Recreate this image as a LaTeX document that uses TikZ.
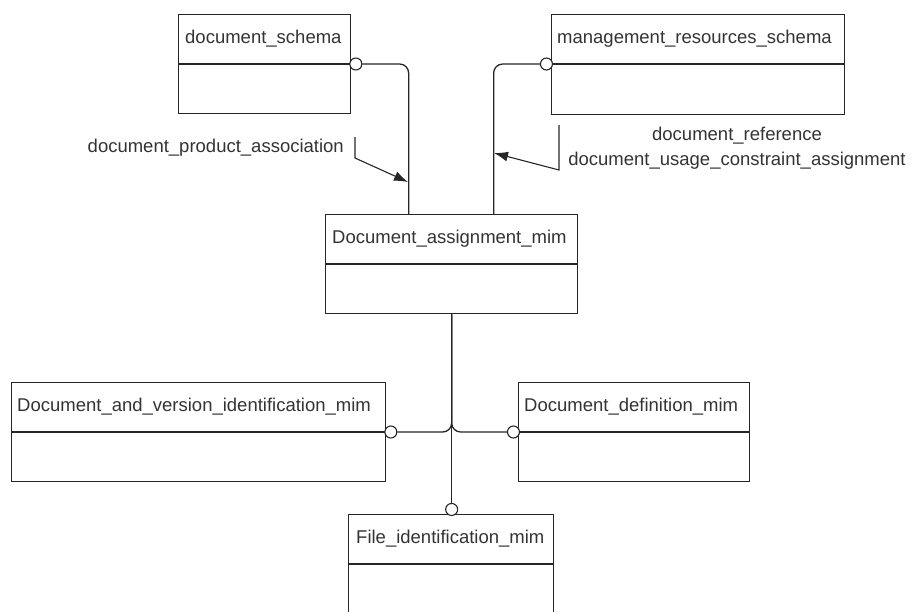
\documentclass[tikz,border=0pt]{standalone}
\usepackage{fontspec}
\setmainfont{Liberation Sans}
\usetikzlibrary{arrows.meta}
\begin{document}
\begin{tikzpicture}[x=1pt,y=-1pt,
  box/.style={draw=black!85, line width=1.3pt, rectangle, anchor=north west, inner sep=0pt},
  divider/.style={draw=black!85, line width=1.3pt},
  ttl/.style={anchor=west, inner sep=0pt, text=black!80, font=\fontsize{18.5}{22}\selectfont},
  endc/.style={circle, draw=black!85, fill=white, line width=1.1pt, minimum size=12pt, inner sep=0pt},
  conn/.style={draw=black!85, line width=1.3pt, rounded corners=9pt},
  lbl/.style={inner sep=0pt, text=black!80, font=\fontsize{18.5}{25}\selectfont},
  ptr/.style={draw=black!85, line width=1.1pt, -{Latex[length=14pt,width=10pt]}}]
\useasboundingbox (0,0) rectangle (912,611);

% boxes
\node[box, minimum width=172pt, minimum height=99pt] (ds) at (178,14) {};
\node[box, minimum width=293pt, minimum height=100pt] (mrs) at (551,14) {};
\node[box, minimum width=252pt, minimum height=99pt] (dam) at (325,214) {};
\node[box, minimum width=374pt, minimum height=99pt] (dav) at (11,382) {};
\node[box, minimum width=231pt, minimum height=99pt] (ddm) at (518,382) {};
\node[box, minimum width=205pt, minimum height=100pt] (fim) at (348,514) {};

\foreach \b in {ds,mrs,dam,dav,ddm,fim}{
  \draw[divider] ([yshift=-50pt]\b.north west) -- ([yshift=-50pt]\b.north east);
}

% titles
\node[ttl] (ds-t) at ([xshift=7pt,yshift=-25pt]ds.north west) {document\_schema};
\node[ttl] (mrs-t) at ([xshift=6pt,yshift=-25pt]mrs.north west) {management\_resources\_schema};
\node[ttl] (dam-t) at ([xshift=7pt,yshift=-25pt]dam.north west) {Document\_assignment\_mim};
\node[ttl] (dav-t) at ([xshift=6pt,yshift=-25pt]dav.north west) {Document\_and\_version\_identification\_mim};
\node[ttl] (ddm-t) at ([xshift=6pt,yshift=-25pt]ddm.north west) {Document\_definition\_mim};
\node[ttl] (fim-t) at ([xshift=8pt,yshift=-25pt]fim.north west) {File\_identification\_mim};

% end circles
\node[endc, anchor=west] (ds-c) at ([xshift=-2pt,yshift=-50pt]ds.north east) {};
\node[endc, anchor=east] (mrs-c) at ([xshift=2pt,yshift=-50pt]mrs.north west) {};
\node[endc, anchor=west] (dav-c) at ([xshift=-2pt,yshift=-50pt]dav.north east) {};
\node[endc, anchor=east] (ddm-c) at ([xshift=2pt,yshift=-50pt]ddm.north west) {};
\node[endc, anchor=south] (fim-c) at ([yshift=-2pt]dam.south |- fim.north) {};

% connectors
\draw[conn] (ds-c.east) -| ([xshift=-43pt]dam.north);
\draw[conn] (mrs-c.west) -| ([xshift=42pt]dam.north);
\draw[conn] (dam.south) |- (dav-c.east);
\draw[conn] (dam.south) |- (ddm-c.west);
\draw[conn] (dam.south) -- (fim-c.north);

% labels
\node[lbl, anchor=base east] (l1) at (344,152) {document\_product\_association};
\coordinate (l1a) at (355,137);
\coordinate (l1b) at (355,158);
\coordinate (t1) at (408,182);
\draw[ptr] (l1a) -- (l1b) -- (t1);

\node[lbl, align=center] (l2) at (737,148) {document\_reference\\document\_usage\_constraint\_assignment};
\coordinate (l2a) at (559,125);
\coordinate (l2b) at (559,170);
\coordinate (t2) at (494,153);
\draw[ptr] (l2a) -- (l2b) -- (t2);
\end{tikzpicture}
\end{document}
